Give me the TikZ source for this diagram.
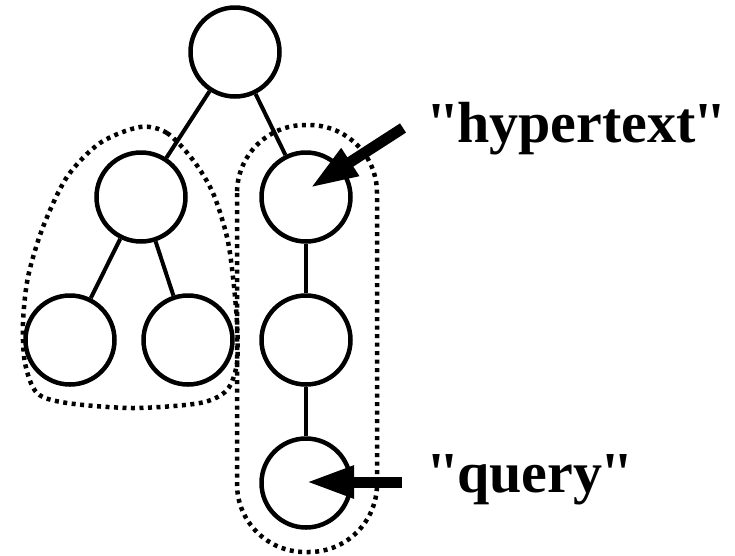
\documentclass[tikz,border=0pt]{standalone}
\usepackage{fontspec}
\newfontfamily\lblfont{Liberation Serif}
\usetikzlibrary{arrows.meta}
\newcommand\qq{\textquotesingle\kern-3pt\textquotesingle}
\begin{document}
\begin{tikzpicture}[x=1pt,y=-1pt,
  vertex/.style = {circle,draw,line width=4.5pt,minimum size=89pt,inner sep=0pt},
  edge/.style = {line width=4pt},
  group/.style = {line width=4.5pt,dash pattern=on 4pt off 4.5pt},
  pointer/.style = {line width=11pt,-{Triangle[length=48pt,width=30pt]}},
  word/.style = {anchor=base west,inner sep=0pt,font=\lblfont\bfseries\fontsize{58}{70}\selectfont}]
\useasboundingbox (0,0) rectangle (735,555);
% the two groups
\draw[group] plot[smooth cycle] coordinates {(140,127) (167,133) (193,160) (213,193) (227,237) (233,277)
  (237,323) (237,363) (227,390) (200,403) (133,408) (67,403) (37,393) (25,363) (23,323) (28,277)
  (43,227) (67,177) (100,143)};
\draw[group,rounded corners=68pt] (237,125) rectangle (377,552);
% the tree
\node[vertex] (root) at (235,52) {};
\node[vertex] (l)  at (141,197) {};
\node[vertex] (ll) at (70,340) {};
\node[vertex] (lr) at (188,340) {};
\node[vertex] (r)  at (306,197) {};
\node[vertex] (rm) at (306,340) {};
\node[vertex] (rb) at (306,483) {};
\foreach \a/\b in {root/l, root/r, l/ll, l/lr, r/rm, rm/rb}
    \draw[edge] (\a) -- (\b);
% the labels
\node[word] (hyper) at (428,142) {\qq hypertext\qq};
\node[word] (query) at (428,492) {\qq query\qq};
\coordinate (htail) at (403,128);
\coordinate (htip)  at (310,188);
\coordinate (qtail) at (402,482);
\coordinate (qtip)  at (306,482);
\draw[pointer] (htail) -- (htip);
\draw[pointer] (qtail) -- (qtip);
\end{tikzpicture}
\end{document}
